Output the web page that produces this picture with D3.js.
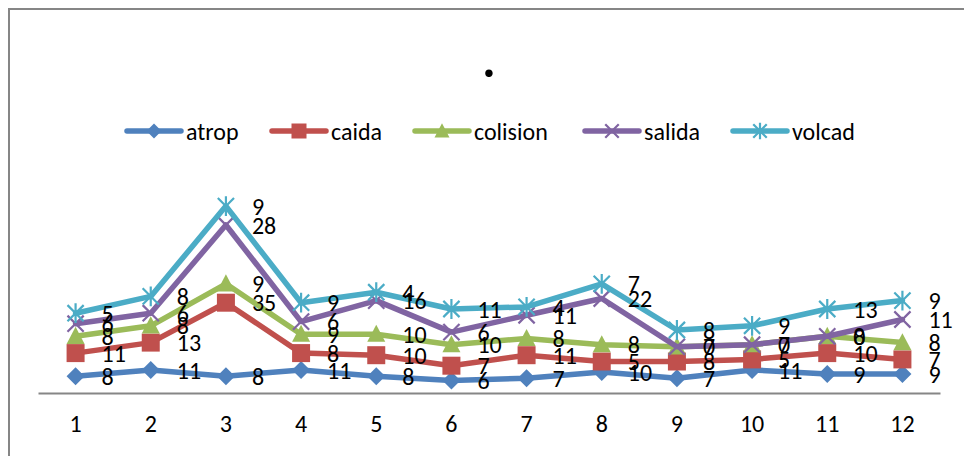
<!DOCTYPE html>
<html><head><meta charset="utf-8">
<script src="https://cdn.jsdelivr.net/npm/d3@7"></script>
<style>html,body{margin:0;padding:0;background:#fff;overflow:hidden}</style>
</head><body>
<svg id="c" width="964" height="456"></svg>
<script>
const categories = ["1","2","3","4","5","6","7","8","9","10","11","12"];
const seriesNames = ["atrop","caida","colision","salida","volcad"];
const atrop    = [8, 11, 8, 11, 8, 6, 7, 10, 7, 11, 9, 9];
const caida    = [11, 13, 35, 8, 10, 7, 11, 5, 8, 5, 10, 7];
const colision = [8, 8, 9, 9, 10, 10, 8, 8, 7, 7, 8, 8];
const salida   = [6, 6, 28, 6, 16, 6, 11, 22, 0, 0, 0, 11];
const volcad   = [5, 8, 9, 9, 4, 11, 4, 7, 8, 9, 13, 9];
const colors = ["#4F81BD","#C0504D","#9BBB59","#8064A2","#4BACC6"];
const markers = ["diamond","square","triangle","x","star"];
const title = ".";

const valueArrays = [atrop, caida, colision, salida, volcad];
const rows = categories.map((c,i)=>{const r={cat:c}; seriesNames.forEach((s,k)=>r[s]=valueArrays[k][i]); return r;});
const stacked = d3.stack().keys(seriesNames)(rows);

const svg = d3.select("#c");
const FONT = "Carlito, Calibri, Lato, 'Open Sans', sans-serif";
// chart border
svg.append("rect").attr("x",9).attr("y",9).attr("width",1000).attr("height",600)
  .attr("fill","#fff").attr("stroke","#868686").attr("stroke-width",2);

const x = d3.scaleBand().domain(categories).range([38,940]);
const y = d3.scaleLinear().domain([0,100]).range([393,183]);
const cx = c => x(c)+x.bandwidth()/2;

// title
svg.append("text").attr("x",489).attr("y",77).attr("text-anchor","middle")
  .attr("font-family",FONT).attr("font-weight","900").attr("font-size",50).text(title);

// axis
const ax = svg.append("g").attr("transform","translate(0,393)")
  .call(d3.axisBottom(x).tickSize(0).tickPadding(22));
ax.select(".domain").attr("stroke","#868686").attr("stroke-width",2);
ax.selectAll("text").attr("font-family",FONT).attr("font-size",24).attr("fill","#000");

function marker(g, type, color, s){
  if(type==="diamond"){
    g.append("path").attr("d",`M0,${-s}L${s},0L0,${s}L${-s},0Z`).attr("fill",color);
  } else if(type==="square"){
    g.append("rect").attr("x",-s).attr("y",-s).attr("width",2*s).attr("height",2*s).attr("fill",color);
  } else if(type==="triangle"){
    g.append("path").attr("d",`M0,${-s*1.05}L${s},${s*0.85}L${-s},${s*0.85}Z`).attr("fill",color);
  } else if(type==="x"){
    const t=s*0.9;
    g.append("path").attr("d",`M${-t},${-t}L${t},${t}M${-t},${t}L${t},${-t}`).attr("stroke",color).attr("stroke-width",2.2);
  } else {
    const t=s*0.9;
    g.append("path").attr("d",`M${-t},${-t}L${t},${t}M${-t},${t}L${t},${-t}M0,${-s*1.1}L0,${s*1.1}`).attr("stroke",color).attr("stroke-width",2.2);
  }
}

const line = d3.line().x(d=>cx(d.data.cat)).y(d=>y(d[1]));
stacked.forEach((ser,k)=>{
  const g = svg.append("g");
  g.append("path").datum(ser).attr("d",line).attr("fill","none")
    .attr("stroke",colors[k]).attr("stroke-width",5.5).attr("stroke-linejoin","round").attr("stroke-linecap","round");
  ser.forEach(d=>{
    const mg = g.append("g").attr("transform",`translate(${cx(d.data.cat)},${y(d[1])})`);
    marker(mg, markers[k], colors[k], 9);
  });
});
// data labels
stacked.forEach((ser,k)=>{
  svg.append("g").selectAll("text").data(ser).join("text")
    .attr("x",d=>cx(d.data.cat)+26).attr("y",d=>y(d[1]))
    .attr("dy","0.36em").attr("font-family",FONT).attr("font-size",24).attr("fill","#000")
    .text(d=>d.data[seriesNames[k]]);
});

// legend
const legX = [127,272,415,585,733];
const lg = svg.append("g");
seriesNames.forEach((s,k)=>{
  const g = lg.append("g").attr("transform",`translate(${legX[k]},131)`);
  g.append("line").attr("x1",0).attr("x2",54).attr("stroke",colors[k]).attr("stroke-width",5.5).attr("stroke-linecap","round");
  const mg = g.append("g").attr("transform","translate(27,0)");
  marker(mg, markers[k], colors[k], 7.5);
  g.append("text").attr("x",59).attr("dy","0.36em").attr("font-family",FONT).attr("font-size",24).attr("fill","#000").text(s);
});
</script>
</body></html>
